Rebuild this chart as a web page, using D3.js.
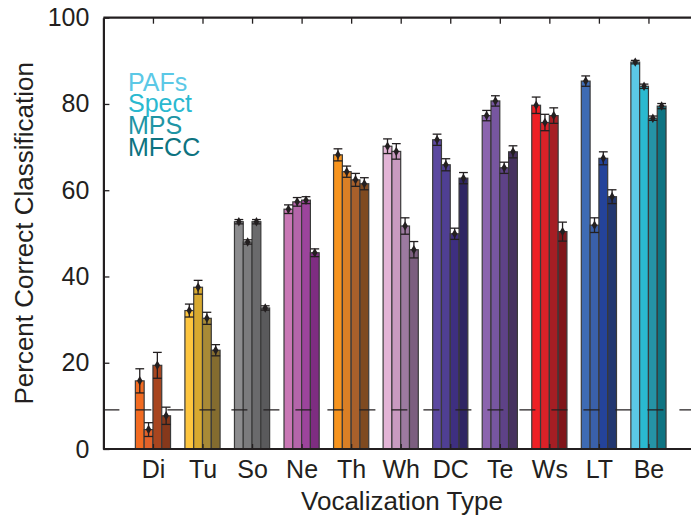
<!DOCTYPE html>
<html><head><meta charset="utf-8">
<script src="https://cdn.jsdelivr.net/npm/d3@7"></script>
<style>body{margin:0;background:#fff}svg{display:block}text{font-family:"Liberation Sans",Arial,Helvetica,sans-serif;fill:#231f20}</style>
</head><body><svg id="c" width="691" height="517"></svg>
<script>
const categories = ["Di","Tu","So","Ne","Th","Wh","DC","Te","Ws","LT","Be"];
const seriesNames = ["PAFs","Spect","MPS","MFCC"];
const pafs  = [15.8,32.1,52.7,55.6,68.2,70.2,71.7,77.3,79.7,85.3,89.7];
const spect = [4.5,37.5,48.0,57.3,64.3,69.0,65.9,80.7,75.7,51.9,84.1];
const mps   = [19.4,30.3,52.7,57.7,62.4,51.7,49.9,65.2,77.3,67.4,76.7];
const mfcc  = [7.7,22.9,32.7,45.5,61.5,46.2,62.8,68.9,50.4,58.5,79.5];
const errPafs  = [2.8,1.5,0.5,1.0,1.4,1.7,1.3,1.2,1.9,1.2,0.4];
const errSpect = [1.6,1.6,0.5,1.0,1.3,1.8,1.4,1.2,1.9,1.7,0.5];
const errMps   = [3.0,1.4,0.5,0.8,1.5,1.9,1.3,1.3,1.8,1.5,0.5];
const errMfcc  = [2.0,1.3,0.5,0.9,1.4,1.9,1.3,1.4,2.2,1.6,0.6];
const colors = [
  ["#f26b21","#e2622a","#a8451f","#86381b"],
  ["#fdc53e","#d8a92f","#a88a36","#846c2f"],
  ["#8c8c8e","#7b7b7d","#6a6a6c","#5a5a5c"],
  ["#c977b5","#b465aa","#9c449c","#7e2d81"],
  ["#f7941e","#da7f25","#a8602b","#7f4a20"],
  ["#e3b4d6","#c99ac0","#9c7aa0","#7c5e7f"],
  ["#5b48a0","#4f3f93","#3e2f80","#2f2563"],
  ["#8b64ae","#7756a0","#5e4287","#46325f"],
  ["#ee2025","#da2128","#a61e24","#80151a"],
  ["#3e6bb4","#3a60aa","#24439a","#223770"],
  ["#5bc8e6","#2ab9d0","#2593a6","#0e7482"]
];
const legendColors = ["#5bc8e6","#2ab9d0","#1e95a5","#0d7380"];
const yTicks = [0,20,40,60,80,100];
const chance = 100/11;

const values = [pafs,spect,mps,mfcc];
const errs = [errPafs,errSpect,errMps,errMfcc];

const svg = d3.select("#c");
const x = d3.scaleLinear().domain([0,12]).range([103.4,103.4+12*49.55]);
const y = d3.scaleLinear().domain([0,100]).range([449,17.7]);
const inner = d3.scaleBand().domain(d3.range(4)).range([-0.355,0.355]).padding(0);
const bw = x(inner.bandwidth()) - x(0);

const data = [];
categories.forEach((c,i)=>{
  for(let s=0;s<4;s++){
    data.push({cat:c,i:i,s:s,v:values[s][i],e:errs[s][i],col:colors[i][s]});
  }
});
function i1(i){return i+1;}
const cx = d => x(i1(d.i) + inner(d.s) + inner.bandwidth()/2);

// bars
svg.append("g").selectAll("rect").data(data).join("rect")
  .attr("x", d => x(i1(d.i)+inner(d.s)))
  .attr("width", bw)
  .attr("y", d => y(d.v))
  .attr("height", d => y(0)-y(d.v))
  .attr("fill", d=>d.col)
  .attr("stroke","#3a3a3a").attr("stroke-width",1.2);

// error bars
const eg = svg.append("g").attr("stroke","#231f20").attr("stroke-width",1.3);
eg.selectAll("line.v").data(data).join("line").attr("class","v")
  .attr("x1",cx).attr("x2",cx)
  .attr("y1",d=>y(d.v+d.e)).attr("y2",d=>y(d.v-d.e));
eg.selectAll("line.t").data(data).join("line").attr("class","t")
  .attr("x1",d=>cx(d)-bw/2).attr("x2",d=>cx(d)+bw/2)
  .attr("y1",d=>y(d.v+d.e)).attr("y2",d=>y(d.v+d.e));
eg.selectAll("line.b").data(data).join("line").attr("class","b")
  .attr("x1",d=>cx(d)-bw/2).attr("x2",d=>cx(d)+bw/2)
  .attr("y1",d=>y(d.v-d.e)).attr("y2",d=>y(d.v-d.e));
svg.append("g").selectAll("path").data(data).join("path")
  .attr("d", d3.symbol().type(d3.symbolDiamond).size(26))
  .attr("transform", d=>`translate(${cx(d)},${y(d.v)})`)
  .attr("fill","#231f20");

// chance line
svg.append("line").attr("x1",x(0)).attr("x2",691)
  .attr("y1",y(chance)).attr("y2",y(chance))
  .attr("stroke","#231f20").attr("stroke-width",1.3).attr("stroke-dasharray","16,16");

// axes
const xb = svg.append("g").attr("transform",`translate(0,${y(0)})`)
  .call(d3.axisBottom(x).tickValues(d3.range(1,12)).tickFormat(d=>categories[d-1]).tickSizeInner(-5).tickSizeOuter(0).tickPadding(11));
const xt = svg.append("g").attr("transform",`translate(0,${y(100)})`)
  .call(d3.axisTop(x).tickValues(d3.range(1,12)).tickFormat("").tickSizeInner(-6).tickSizeOuter(0));
const yl = svg.append("g").attr("transform",`translate(${x(0)},0)`)
  .call(d3.axisLeft(y).tickValues(yTicks).tickSizeInner(-6).tickSizeOuter(0).tickPadding(14));
[xb,xt,yl].forEach(g=>{
  g.select(".domain").attr("stroke","#231f20").attr("stroke-width",2.2);
  g.selectAll(".tick line").attr("stroke","#231f20").attr("stroke-width",1.3);
  g.selectAll(".tick text").attr("font-size",25).attr("fill","#231f20").attr("font-family",'"Liberation Sans",Arial,sans-serif');
});
xb.select(".domain").attr("d",`M${x(0)},0H691`);
xt.select(".domain").attr("d",`M${x(0)},0H691`);

// axis titles
svg.append("text").attr("x",402).attr("y",510).attr("text-anchor","middle")
  .attr("font-size",26).text("Vocalization Type");
svg.append("text").attr("transform",`translate(33,${y(50)}) rotate(-90)`).attr("text-anchor","middle")
  .attr("font-size",26).text("Percent Correct Classification");

// legend
svg.append("g").selectAll("text").data(seriesNames).join("text")
  .attr("x",128).attr("y",(d,i)=>90.5+i*21.8)
  .attr("font-size",25).style("fill",(d,i)=>legendColors[i])
  .text(d=>d);
</script></body></html>
